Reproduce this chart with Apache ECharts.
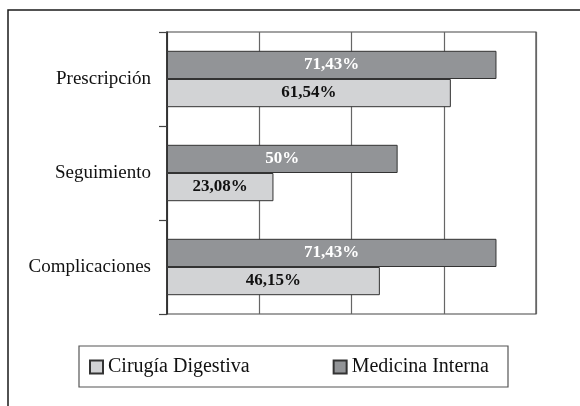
<!DOCTYPE html>
<html>
<head>
<meta charset="utf-8">
<style>
  html, body { margin: 0; padding: 0; background: #fff; }
  #chart { width: 580px; height: 406px; }
</style>
<script src="https://cdn.jsdelivr.net/npm/echarts@6/dist/echarts.min.js"></script>
</head>
<body>
<div id="chart"></div>
<script>
// categories, top to bottom
var categories = ['Prescripción', 'Seguimiento', 'Complicaciones'];
// percentages per service
var cirugiaDigestiva = [61.54, 23.08, 46.15];
var medicinaInterna = [71.43, 50, 71.43];
var xTicks = [0, 20, 40, 60, 80];

var chart = echarts.init(document.getElementById('chart'));

var serif = 'Liberation Serif';

function pct(p) {
    return String(p.value).replace('.', ',') + '%';
}

var option = {
    animation: false,
    // marco exterior y caja de la leyenda
    graphic: [
        {
            type: 'rect',
            shape: { x: 8, y: 10, width: 700, height: 500 },
            style: { fill: 'none', stroke: '#1a1a1a', lineWidth: 1.5 },
            silent: true
        },
        {
            type: 'rect',
            shape: { x: 79, y: 346, width: 429, height: 41 },
            style: { fill: 'none', stroke: '#555', lineWidth: 1.2 },
            silent: true
        }
    ],
    grid: {
        left: 167,
        top: 32,
        right: 44,
        bottom: 92,
        show: true,
        borderColor: '#444',
        borderWidth: 1.2
    },
    legend: {
        data: ['Cirugía Digestiva', 'Medicina Interna'],
        left: 89,
        top: 357,
        padding: 0,
        itemWidth: 13,
        itemHeight: 13,
        itemGap: 83,
        icon: 'rect',
        textStyle: { fontFamily: serif, fontSize: 20, color: '#111' }
    },
    xAxis: {
        type: 'value',
        min: xTicks[0],
        max: xTicks[xTicks.length - 1],
        interval: 20,
        axisLine: { show: false },
        axisTick: { show: false },
        axisLabel: { show: false },
        splitLine: { lineStyle: { color: '#666', width: 1.2 } }
    },
    yAxis: {
        type: 'category',
        data: categories,
        inverse: true,
        axisLine: { lineStyle: { color: '#222', width: 1.5 } },
        axisTick: { show: true, inside: false, length: 8, lineStyle: { color: '#444', width: 1.2 } },
        axisLabel: { margin: 16, fontFamily: serif, fontSize: 19, color: '#111' }
    },
    series: [
        {
            name: 'Medicina Interna',
            type: 'bar',
            data: medicinaInterna,
            barCategoryGap: '40%',
            barGap: '0%',
            itemStyle: { color: '#929497', borderColor: '#333', borderWidth: 1 },
            label: {
                show: true,
                position: 'inside',
                formatter: pct,
                fontFamily: serif,
                fontWeight: 'bold',
                fontSize: 17,
                color: '#fff'
            }
        },
        {
            name: 'Cirugía Digestiva',
            type: 'bar',
            data: cirugiaDigestiva,
            barCategoryGap: '40%',
            barGap: '0%',
            itemStyle: { color: '#d2d3d5', borderColor: '#333', borderWidth: 1 },
            label: {
                show: true,
                position: 'inside',
                formatter: pct,
                fontFamily: serif,
                fontWeight: 'bold',
                fontSize: 17,
                color: '#111'
            }
        }
    ]
};

chart.setOption(option);
</script>
</body>
</html>
